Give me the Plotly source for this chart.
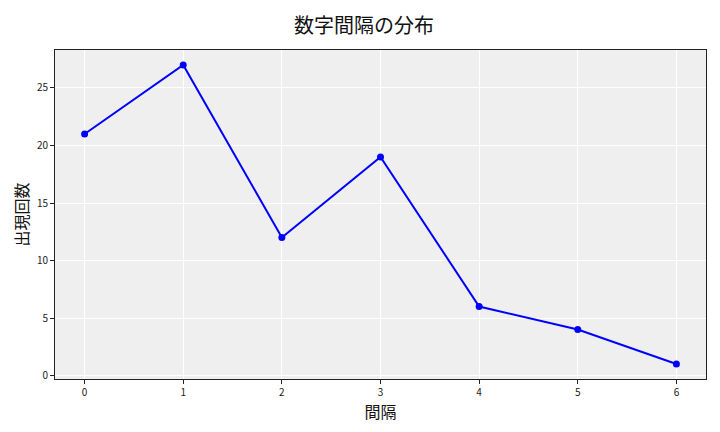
import plotly.graph_objects as go

# 数字間隔ごとの出現回数
intervals = [0, 1, 2, 3, 4, 5, 6]
counts = [21, 27, 12, 19, 6, 4, 1]

font = "Noto Sans CJK JP"

fig = go.Figure()
fig.add_trace(go.Scatter(
    x=intervals, y=counts, mode="lines+markers",
    line=dict(color="#0000ff", width=2),
    marker=dict(color="#0000ff", size=7),
))

axis_style = dict(
    showline=True, linecolor="#222222", linewidth=1, mirror=True,
    ticks="outside", ticklen=4, tickcolor="#222222",
    gridcolor="white", gridwidth=1, zeroline=False, automargin=False,
    tickfont=dict(family=font, size=10, color="#222222"),
)

# the page body adds an 8px offset, so the figure is 712x424
fig.update_layout(
    width=712, height=424,
    margin=dict(l=47, r=14, t=42, b=53),
    paper_bgcolor="white", plot_bgcolor="#efefef",
    showlegend=False,
    title=dict(text="数字間隔の分布", x=0.5, xanchor="center", y=1 - 18 / 424, yanchor="middle",
               font=dict(family=font, size=20, color="#111111")),
    xaxis=dict(axis_style, range=[-0.3, 6.3], tickvals=intervals,
               title=dict(text="間隔", font=dict(family=font, size=16, color="#111111"), standoff=2)),
    yaxis=dict(axis_style, range=[-0.3, 28.3], tickvals=[0, 5, 10, 15, 20, 25],
               title=dict(text="出現回数", font=dict(family=font, size=16, color="#111111"), standoff=4)),
)

fig.write_html("out.html")
